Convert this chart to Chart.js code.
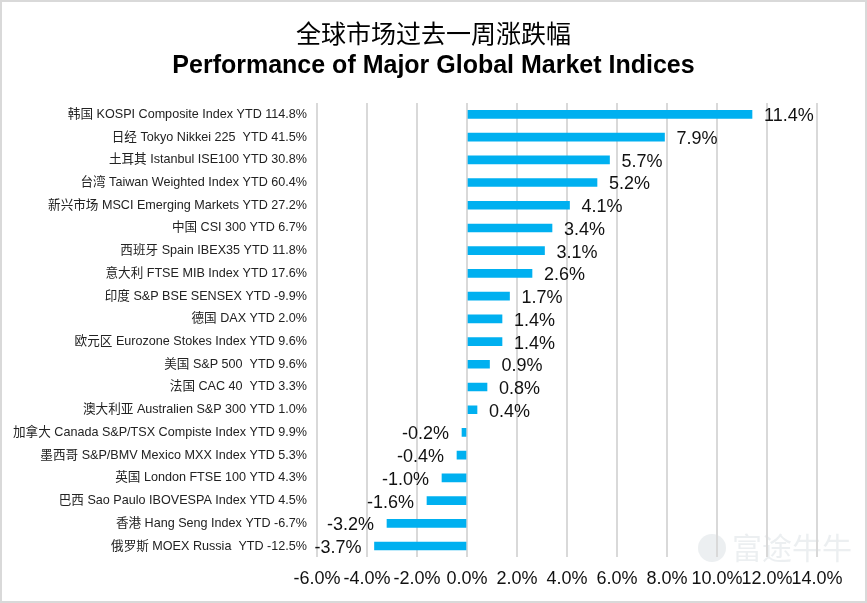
<!DOCTYPE html>
<html>
<head>
<meta charset="utf-8">
<script src="https://cdn.jsdelivr.net/npm/chart.js@4/dist/chart.umd.min.js"></script>
<style>
	html, body { margin: 0; padding: 0; background: #fff; }
	#perf { display: block; }
</style>
</head>
<body>
<canvas id="perf" width="867" height="603" style="width:867px;height:603px"></canvas>
<script>
// data
const indexNames = [
	"韩国 KOSPI Composite Index YTD 114.8%",
	"日经 Tokyo Nikkei 225  YTD 41.5%",
	"土耳其 Istanbul ISE100 YTD 30.8%",
	"台湾 Taiwan Weighted Index YTD 60.4%",
	"新兴市场 MSCI Emerging Markets YTD 27.2%",
	"中国 CSI 300 YTD 6.7%",
	"西班牙 Spain IBEX35 YTD 11.8%",
	"意大利 FTSE MIB Index YTD 17.6%",
	"印度 S&P BSE SENSEX YTD -9.9%",
	"德国 DAX YTD 2.0%",
	"欧元区 Eurozone Stokes Index YTD 9.6%",
	"美国 S&P 500  YTD 9.6%",
	"法国 CAC 40  YTD 3.3%",
	"澳大利亚 Australien S&P 300 YTD 1.0%",
	"加拿大 Canada S&P/TSX Compiste Index YTD 9.9%",
	"墨西哥 S&P/BMV Mexico MXX Index YTD 5.3%",
	"英国 London FTSE 100 YTD 4.3%",
	"巴西 Sao Paulo IBOVESPA Index YTD 4.5%",
	"香港 Hang Seng Index YTD -6.7%",
	"俄罗斯 MOEX Russia  YTD -12.5%"
]
const weeklyChange = [11.4, 7.9, 5.7, 5.2, 4.1, 3.4, 3.1, 2.6, 1.7, 1.4, 1.4, 0.9, 0.8, 0.4, -0.2, -0.4, -1.0, -1.6, -3.2, -3.7]
const axisMin = -6
const axisMax = 14
const axisStep = 2
const titleCn = "全球市场过去一周涨跌幅"
const titleEn = "Performance of Major Global Market Indices"
const watermark = "富途牛牛"

const latinFont = "'Liberation Sans', Arial, 'Noto Sans CJK SC', sans-serif"

//value labels next to each bar
const valueLabels = {
	id: "valueLabels",
	afterDatasetsDraw(chart) {
		const ctx = chart.ctx
		const meta = chart.getDatasetMeta(0)
		ctx.save()
		ctx.font = "18px " + latinFont
		ctx.fillStyle = "#111"
		ctx.textBaseline = "middle"
		meta.data.forEach((bar, i) => {
			let v = weeklyChange[i]
			let txt = v.toFixed(1) + "%"
			if (v >= 0) {
				ctx.textAlign = "left"
				ctx.fillText(txt, bar.x + 12, bar.y + 2)
			} else {
				ctx.textAlign = "right"
				ctx.fillText(txt, bar.x - 13, bar.y + 2)
			}
		})
		ctx.restore()
	}
}

//outer frame + faint watermark
const frame = {
	id: "frame",
	beforeDraw(chart) {
		const ctx = chart.ctx
		ctx.save()
		ctx.fillStyle = "#fff"
		ctx.fillRect(0, 0, chart.width, chart.height)
		ctx.font = "30px 'Noto Sans CJK SC', sans-serif"
		ctx.fillStyle = "rgba(200, 208, 216, 0.35)"
		ctx.textAlign = "left"
		ctx.textBaseline = "middle"
		ctx.fillText(watermark, 732, 548)
		ctx.beginPath()
		ctx.arc(712, 548, 14, 0, Math.PI * 2)
		ctx.fill()
		ctx.restore()
	},
	afterDraw(chart) {
		const ctx = chart.ctx
		ctx.save()
		ctx.strokeStyle = "#d9d9d9"
		ctx.lineWidth = 2
		ctx.strokeRect(1, 1, chart.width - 2, chart.height - 2)
		ctx.restore()
	}
}

let ctx = document.getElementById("perf").getContext("2d")
let perfChart = new Chart(ctx, {
	type: "bar",
	data: {
		labels: indexNames,
		datasets: [{
			data: weeklyChange,
			backgroundColor: "#00B0F0",
			barThickness: 8
		}]
	},
	options: {
		indexAxis: "y",
		responsive: false,
		maintainAspectRatio: false,
		animation: false,
		devicePixelRatio: 1,
		layout: {
			padding: { left: 0, right: 0, top: 0, bottom: 2 }
		},
		plugins: {
			legend: { display: false },
			tooltip: { enabled: false },
			title: {
				display: true,
				text: titleCn,
				color: "#000",
				font: { family: "'Noto Sans CJK SC', sans-serif", size: 25, weight: "normal", lineHeight: 1.2 },
				padding: { top: 18, bottom: 3 }
			},
			subtitle: {
				display: true,
				text: titleEn,
				color: "#000",
				font: { family: latinFont, size: 25, weight: "bold", lineHeight: 1.2 },
				padding: { top: 0, bottom: 22 }
			}
		},
		scales: {
			x: {
				min: axisMin,
				max: axisMax,
				border: { display: false },
				grid: { color: "#d9d9d9", lineWidth: 2, drawTicks: false },
				ticks: {
					stepSize: axisStep,
					padding: 11,
					color: "#111",
					font: { family: latinFont, size: 18 },
					maxRotation: 0,
					autoSkip: false,
					callback: v => v.toFixed(1) + "%"
				}
			},
			y: {
				border: { display: false },
				grid: { display: false, drawTicks: false },
				ticks: {
					padding: 10,
					color: "#222",
					autoSkip: false,
					font: { family: latinFont, size: 12.6 }
				},
				afterFit(scale) {
					scale.width = 317
				}
			},
			// empty right-hand spacer so the titles stay centred on the canvas
			yRight: {
				type: "category",
				position: "right",
				labels: indexNames,
				border: { display: false },
				grid: { display: false, drawTicks: false },
				ticks: { display: false },
				afterFit(scale) {
					scale.width = 50
				}
			}
		}
	},
	plugins: [frame, valueLabels]
})
</script>
</body>
</html>
